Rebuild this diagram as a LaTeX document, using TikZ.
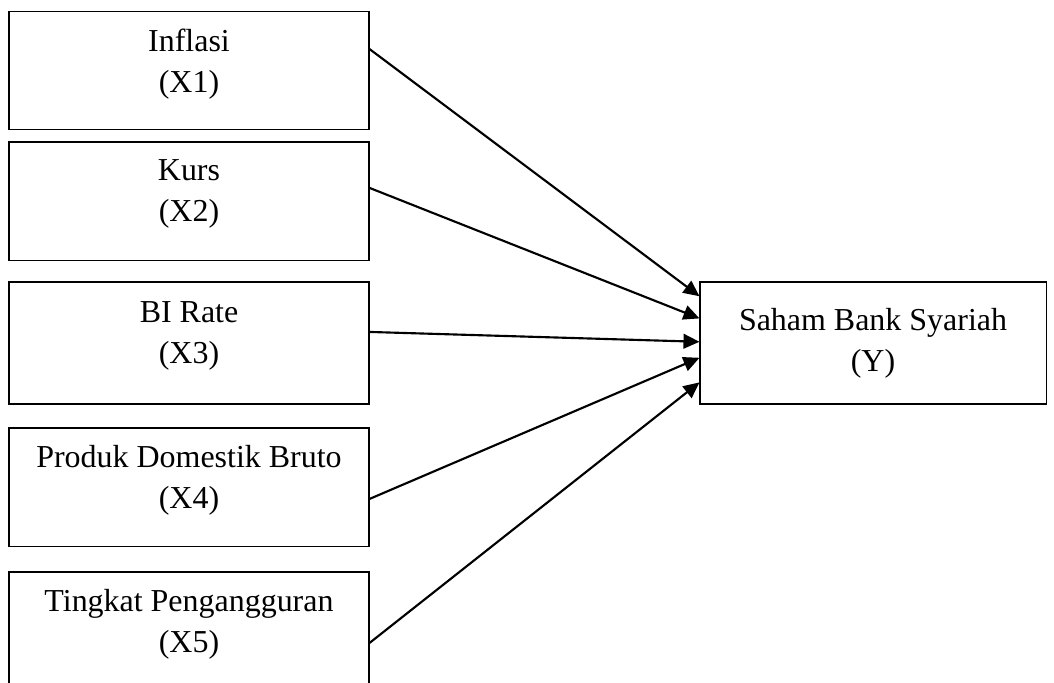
\documentclass[tikz,border=0pt]{standalone}
\usepackage{fontspec}
\setmainfont{Liberation Serif}
\usepackage{tikz}
\usetikzlibrary{arrows.meta,calc}

\begin{document}
\begin{tikzpicture}[x=0.0132cm,y=-0.0132cm,
                varbox/.style={draw,line width=0.4pt,minimum width=4.752cm,minimum height=1.558cm,
                           font=\fontsize{12}{15.4}\selectfont,align=center,text depth=7.5pt,inner sep=0pt},
                depbox/.style={draw,line width=0.4pt,minimum width=4.567cm,minimum height=1.61cm,
                           font=\fontsize{12}{15.4}\selectfont,align=center,inner sep=0pt},
                link/.style={line width=0.8pt,-{Triangle[length=6pt,width=5.5pt]}}
            ]
                \useasboundingbox (0,0) rectangle (1054,682);
                \clip (0,0) rectangle (1054,682);
                \node[varbox] (x1) at (189,70.5) {Inflasi\\(X1)};
                \node[varbox] (x2) at (189,201) {Kurs\\(X2)};
                \node[varbox,minimum height=1.61cm] (x3) at (189,343) {BI Rate\\(X3)};
                \node[varbox] (x4) at (189,487) {Produk Domestik Bruto\\(X4)};
                \node[varbox] (x5) at (189,631) {Tingkat Pengangguran\\(X5)};
                \node[depbox] (y) at (873,343) {Saham Bank Syariah\\(Y)};
                \draw[link] ($(x1.north east)!0.32!(x1.south east)$) -- ($(y.north west)!0.12!(y.south west)$);
                \draw[link] ($(x2.north east)!0.39!(x2.south east)$) -- ($(y.north west)!0.30!(y.south west)$);
                \draw[link] ($(x3.north east)!0.41!(x3.south east)$) -- ($(y.north west)!0.49!(y.south west)$);
                \draw[link] ($(x4.north east)!0.60!(x4.south east)$) -- ($(y.north west)!0.62!(y.south west)$);
                \draw[link] ($(x5.north east)!0.60!(x5.south east)$) -- ($(y.north west)!0.82!(y.south west)$);
            \end{tikzpicture}
\end{document}
